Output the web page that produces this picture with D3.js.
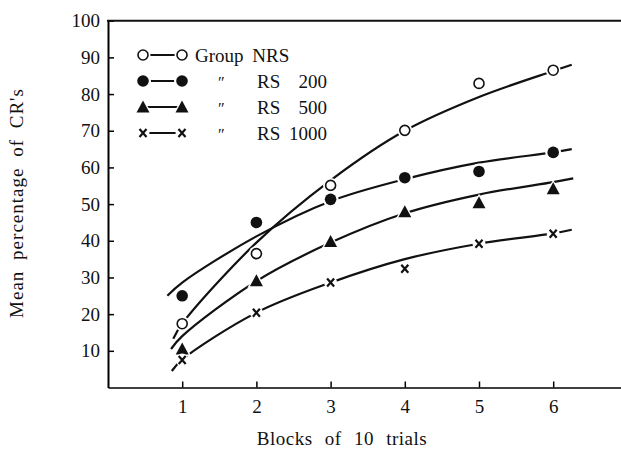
<!doctype html>
<meta charset="utf-8" />
<script src="https://cdn.jsdelivr.net/npm/d3@7/dist/d3.min.js"></script>
<style>
    body { margin: 0; background: white; }
    svg { display: block; }
    text { font-family: "Liberation Serif", "DejaVu Serif", serif; fill: #111; }
</style>
<svg id="chart"></svg>
<script>
    // observed means per block
    var blocks = [1, 2, 3, 4, 5, 6];
    var nrs = [17.4, 36.5, 55.1, 70.1, 82.9, 86.5];
    var rs200 = [25.0, 45.0, 51.3, 57.2, 58.9, 64.1];
    var rs500 = [10.5, 29.1, 39.8, 47.9, 50.4, 54.2];
    var rs1000 = [7.5, 20.4, 28.6, 32.4, 39.2, 41.9];

    // hand-fitted curves, [block, value]
    var nrsFit = [[0.88, 13.3], [1, 17.4], [2, 39.5], [3, 56.5], [4, 70], [5, 79.2], [6, 86.3], [6.25, 88]];
    var rs200Fit = [[0.8, 25], [1, 28.6], [2, 41.2], [3, 50.8], [4, 56.8], [5, 61.3], [6, 64.1], [6.25, 65]];
    var rs500Fit = [[0.85, 10.5], [1, 14], [2, 29], [3, 39.5], [4, 47.5], [5, 52.6], [6, 56], [6.27, 57]];
    var rs1000Fit = [[0.86, 4.5], [1, 7.6], [2, 20.4], [3, 28.6], [4, 35], [5, 39.2], [6, 42], [6.25, 43]];

    var yTicks = [10, 20, 30, 40, 50, 60, 70, 80, 90, 100];
    var legendNames = ['Group  NRS', 'RS   200', 'RS   500', 'RS  1000'];

    var W = 621, H = 450;
    var svg = d3.select('#chart').attr('width', W).attr('height', H);

    var x = d3.scaleLinear().domain([0, 7]).range([108, 627.4]);
    var y = d3.scaleLinear().domain([0, 100]).range([387.5, 20.7]);

    // axes
    var gx = svg.append('g')
        .attr('transform', 'translate(0,' + y(0) + ')')
        .call(d3.axisBottom(x).tickValues(blocks).tickFormat(d3.format('d'))
            .tickSizeInner(-6).tickSizeOuter(0).tickPadding(12));
    gx.select('.domain').attr('stroke-width', 1.6);
    gx.selectAll('.tick line').attr('stroke-width', 1.5);
    gx.selectAll('text').style('font-size', '19px').style('font-family', '"Liberation Serif", serif');

    var gy = svg.append('g')
        .attr('transform', 'translate(' + x(0) + ',0)')
        .call(d3.axisLeft(y).tickValues(yTicks).tickSizeInner(-6).tickSizeOuter(0).tickPadding(8));
    gy.select('.domain').attr('stroke-width', 2);
    gy.selectAll('.tick line').attr('stroke-width', 1.5);
    gy.selectAll('text').style('font-size', '19px').style('font-family', '"Liberation Serif", serif');

    svg.append('line')
        .attr('x1', x(0) - 1).attr('x2', x(7))
        .attr('y1', y(100)).attr('y2', y(100))
        .attr('stroke', '#111').attr('stroke-width', 2);

    // axis titles
    svg.append('text')
        .attr('x', 342).attr('y', 445)
        .attr('text-anchor', 'middle')
        .style('font-size', '19px').style('word-spacing', '7px').style('letter-spacing', '0.5px')
        .text('Blocks of 10 trials');

    svg.append('text')
        .attr('transform', 'translate(23,203) rotate(-90)')
        .attr('text-anchor', 'middle')
        .style('font-size', '19px').style('word-spacing', '5px').style('letter-spacing', '1px')
        .text("Mean percentage of CR's");

    // fitted curves
    var line = d3.line()
        .x(d => x(d[0]))
        .y(d => y(d[1]))
        .curve(d3.curveCatmullRom.alpha(0.5));

    var curves = svg.append('g');
    [nrsFit, rs200Fit, rs500Fit, rs1000Fit].forEach(function (c) {
        curves.append('path')
            .attr('d', line(c))
            .attr('fill', 'none')
            .attr('stroke', '#111')
            .attr('stroke-width', 2.2);
    });

    // marker drawing
    function marker(g, kind, cx, cy) {
        if (kind === 'open') {
            g.append('circle').attr('cx', cx).attr('cy', cy).attr('r', 7.5).attr('fill', 'white');
            g.append('circle').attr('cx', cx).attr('cy', cy).attr('r', 5)
                .attr('fill', 'white').attr('stroke', '#111').attr('stroke-width', 1.6);
        } else if (kind === 'filled') {
            g.append('circle').attr('cx', cx).attr('cy', cy).attr('r', 8).attr('fill', 'white');
            g.append('circle').attr('cx', cx).attr('cy', cy).attr('r', 5.8).attr('fill', '#111');
        } else if (kind === 'tri') {
            g.append('path').attr('transform', 'translate(' + cx + ',' + cy + ')')
                .attr('d', 'M0,-9L9,7L-9,7Z').attr('fill', 'white');
            g.append('path').attr('transform', 'translate(' + cx + ',' + cy + ')')
                .attr('d', 'M0,-6.5L6.5,5.5L-6.5,5.5Z').attr('fill', '#111');
        } else {
            g.append('circle').attr('cx', cx).attr('cy', cy).attr('r', 6.5).attr('fill', 'white');
            g.append('path').attr('transform', 'translate(' + cx + ',' + cy + ')')
                .attr('d', 'M-3.5,-4L3.5,4M3.5,-4L-3.5,4')
                .attr('stroke', '#111').attr('stroke-width', 2.2).attr('fill', 'none');
        }
    }

    var series = [
        { vals: nrs, kind: 'open' },
        { vals: rs200, kind: 'filled' },
        { vals: rs500, kind: 'tri' },
        { vals: rs1000, kind: 'cross' }
    ];

    var pts = svg.append('g');
    series.forEach(function (s) {
        s.vals.forEach(function (v, i) {
            marker(pts, s.kind, x(blocks[i]), y(v));
        });
    });

    // legend
    var leg = svg.append('g');
    var rowY = [55, 81, 107, 133];
    series.forEach(function (s, i) {
        var ly = rowY[i];
        leg.append('line')
            .attr('x1', 143).attr('x2', 182)
            .attr('y1', ly).attr('y2', ly)
            .attr('stroke', '#111').attr('stroke-width', 2);
        marker(leg, s.kind, 143, ly);
        marker(leg, s.kind, 182, ly);
        if (i === 0) {
            leg.append('text').attr('x', 195).attr('y', ly + 7)
                .style('font-size', '19px').style('word-spacing', '4px')
                .text(legendNames[i]);
        } else {
            leg.append('text').attr('x', 217).attr('y', ly + 7)
                .style('font-size', '16px').style('font-style', 'italic')
                .text('\u2033');
            var parts = legendNames[i].trim().split(/\s+/);
            leg.append('text').attr('x', 257).attr('y', ly + 7)
                .style('font-size', '19px').text(parts[0]);
            leg.append('text').attr('x', 327).attr('y', ly + 7)
                .attr('text-anchor', 'end')
                .style('font-size', '19px').text(parts[1]);
        }
    });
</script>
